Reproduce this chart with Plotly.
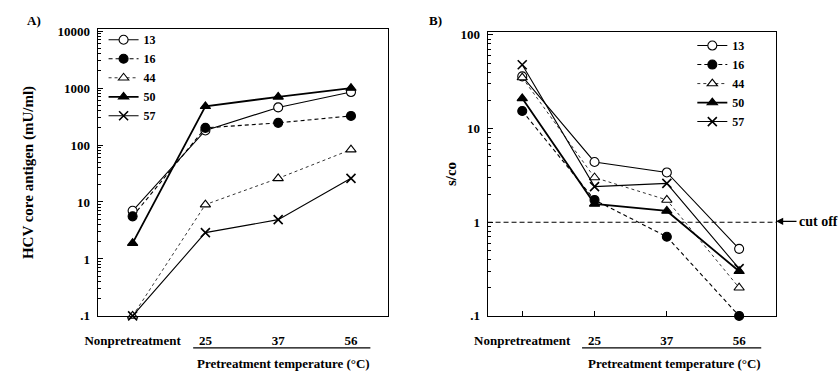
import plotly.graph_objects as go

categories = ["Nonpretreatment", "25", "37", "56"]
series_names = ["13", "16", "44", "50", "57"]

# Panel A: HCV core antigen (mU/ml)
a_13 = [7, 180, 457, 850]
a_16 = [5.6, 200, 245, 324]
a_44 = [0.1, 9, 26, 83]
a_50 = [1.9, 478, 700, 1000]
a_57 = [0.1, 2.9, 4.9, 26]

# Panel B: s/co
b_13 = [36, 4.4, 3.4, 0.52]
b_16 = [15.4, 1.73, 0.7, 0.1]
b_44 = [35, 3.0, 1.73, 0.2]
b_50 = [21, 1.57, 1.32, 0.3]
b_57 = [48, 2.4, 2.6, 0.32]

CUTOFF = 1

a_ticks = [0.1, 1, 10, 100, 1000, 10000]
a_ticktext = [".1", "1", "10", "100", "1000", "10000"]
b_ticks = [0.1, 1, 10, 100]
b_ticktext = [".1", "1", "10", "100"]

FONT = "Liberation Serif"
W, H = 840, 378
X_RANGE = [-0.48, 3.51]
A_YRANGE = [-1, 4.034]
B_YRANGE = [-1, 2.03]


def minor_vals(majors):
    out = []
    for m in majors[:-1]:
        for k in range(2, 10):
            out.append(round(m * k, 6))
    return out


styles = {
    "13": dict(symbol="circle", fill="white", dash="solid", width=1.1),
    "16": dict(symbol="circle", fill="black", dash="4px,3px", width=1.1),
    "44": dict(symbol="triangle-up", fill="white", dash="3px,3px", width=0.8),
    "50": dict(symbol="triangle-up", fill="black", dash="solid", width=1.8),
    "57": dict(symbol="x-thin", fill="black", dash="solid", width=1.1),
}

xs = list(range(len(categories)))
fig = go.Figure()

# empty helper traces so the minor-tick overlay axes are drawn
fig.add_trace(go.Scatter(x=[], y=[], xaxis="x", yaxis="y3", showlegend=False,
                         hoverinfo="skip"))
fig.add_trace(go.Scatter(x=[], y=[], xaxis="x2", yaxis="y4", showlegend=False,
                         hoverinfo="skip"))

# cut-off dashed line on panel B
fig.add_trace(go.Scatter(
    x=X_RANGE, y=[CUTOFF, CUTOFF], mode="lines", showlegend=False,
    hoverinfo="skip", line=dict(color="black", width=1.2, dash="5px,3px"),
    xaxis="x2", yaxis="y2", cliponaxis=True,
))


def add_series(name, vals, xa, ya, leg):
    s = styles[name]
    if s["symbol"] == "x-thin":
        marker = dict(symbol="x-thin", size=9, color="black",
                      line=dict(color="black", width=1.6))
    else:
        marker = dict(symbol=s["symbol"], size=9, color=s["fill"],
                      line=dict(color="black", width=1.1))
    fig.add_trace(go.Scatter(
        x=xs, y=vals, name=name, mode="lines+markers",
        line=dict(color="black", width=s["width"], dash=s["dash"]),
        marker=marker, xaxis=xa, yaxis=ya, legend=leg, cliponaxis=False,
    ))


for n, v in zip(series_names, [a_13, a_16, a_44, a_50, a_57]):
    add_series(n, v, "x", "y", "legend")
for n, v in zip(series_names, [b_13, b_16, b_44, b_50, b_57]):
    add_series(n, v, "x2", "y2", "legend2")

tickfont = dict(family=FONT, size=13, color="black", weight="bold")
bottom = 1 - 322 / H
A_DOM = [bottom, 1 - 25 / H]
B_DOM = [bottom, 1 - 28 / H]

common_x = dict(tickmode="array", tickvals=xs, ticktext=categories,
                range=X_RANGE, showline=True, mirror=True,
                linecolor="black", linewidth=1, showgrid=False, zeroline=False,
                tickfont=tickfont, ticklabelstandoff=12)

common_y = dict(type="log", tickmode="array", ticks="inside", ticklen=5,
                tickcolor="black", showline=True, mirror=True,
                linecolor="black", linewidth=1, showgrid=False,
                zeroline=False, tickfont=tickfont, ticklabelstandoff=4)

minor_y = dict(type="log", tickmode="array", ticks="inside", ticklen=3,
               tickcolor="black", showline=False, showgrid=False,
               zeroline=False, showticklabels=False, side="left")

fig.update_layout(
    width=W, height=H, margin=dict(l=0, r=0, t=0, b=0),
    paper_bgcolor="white", plot_bgcolor="white",
    font=dict(family=FONT, color="black"),
    xaxis=dict(domain=[86 / W, 381 / W], anchor="y", ticks="", **common_x),
    xaxis2=dict(domain=[482 / W, 775 / W], anchor="y2", ticks="inside",
                ticklen=5, tickcolor="black", **common_x),
    yaxis=dict(domain=A_DOM, anchor="x", range=A_YRANGE,
               tickvals=a_ticks, ticktext=a_ticktext,
               title=dict(text="HCV core antigen (mU/ml)", standoff=20,
                          font=dict(family=FONT, size=15, color="black", weight="bold")),
               **common_y),
    yaxis2=dict(domain=B_DOM, anchor="x2", range=B_YRANGE,
                tickvals=b_ticks, ticktext=b_ticktext,
                title=dict(text="s/co", standoff=0,
                           font=dict(family=FONT, size=15, color="black", weight="bold")),
                **common_y),
    yaxis3=dict(overlaying="y", anchor="x", range=A_YRANGE,
                tickvals=minor_vals(a_ticks), **minor_y),
    yaxis4=dict(overlaying="y2", anchor="x2", range=B_YRANGE,
                tickvals=minor_vals(b_ticks), **minor_y),
    legend=dict(x=92 / W, y=1 - 21 / H, xanchor="left", yanchor="top",
                bgcolor="rgba(0,0,0,0)", tracegroupgap=0, itemwidth=30,
                font=dict(family=FONT, size=12, color="black", weight="bold")),
    legend2=dict(x=690 / W, y=1 - 27 / H, xanchor="left", yanchor="top",
                 bgcolor="rgba(0,0,0,0)", tracegroupgap=0, itemwidth=30,
                 font=dict(family=FONT, size=12, color="black", weight="bold")),
    showlegend=True,
)

# cut-off arrow and label
fig.add_annotation(xref="x2 domain", yref="paper", x=1, y=1 - 224 / H,
                   text="", showarrow=True, ax=22, ay=0, arrowhead=2,
                   arrowsize=1.2, arrowwidth=1.2, arrowcolor="black",
                   standoff=0)
fig.add_annotation(xref="x2 domain", yref="paper", x=1, y=1 - 224 / H,
                   text="cut off", showarrow=False, xanchor="left", xshift=21,
                   font=dict(family=FONT, size=14, color="black", weight="bold"))

# x-axis titles with overline
for (x0, x1, cx) in [(183, 363, 275), (578, 760, 672)]:
    fig.add_shape(type="line", xref="paper", yref="paper",
                  x0=x0 / W, x1=x1 / W, y0=1 - 355 / H, y1=1 - 355 / H,
                  line=dict(color="black", width=1.2))
    fig.add_annotation(xref="paper", yref="paper", x=cx / W, y=1 - 371 / H,
                       text="Pretreatment temperature (°C)", showarrow=False,
                       xanchor="center", yanchor="middle",
                       font=dict(family=FONT, size=13, color="black", weight="bold"))

# panel labels
fig.add_annotation(xref="paper", yref="paper", x=12 / W, y=1 - 16 / H,
                   text="A)", showarrow=False, xanchor="left", yanchor="middle",
                   font=dict(family=FONT, size=13, color="black", weight="bold"))
fig.add_annotation(xref="paper", yref="paper", x=420 / W, y=1 - 16 / H,
                   text="B)", showarrow=False, xanchor="left", yanchor="middle",
                   font=dict(family=FONT, size=13, color="black", weight="bold"))

fig.write_html("out.html")
